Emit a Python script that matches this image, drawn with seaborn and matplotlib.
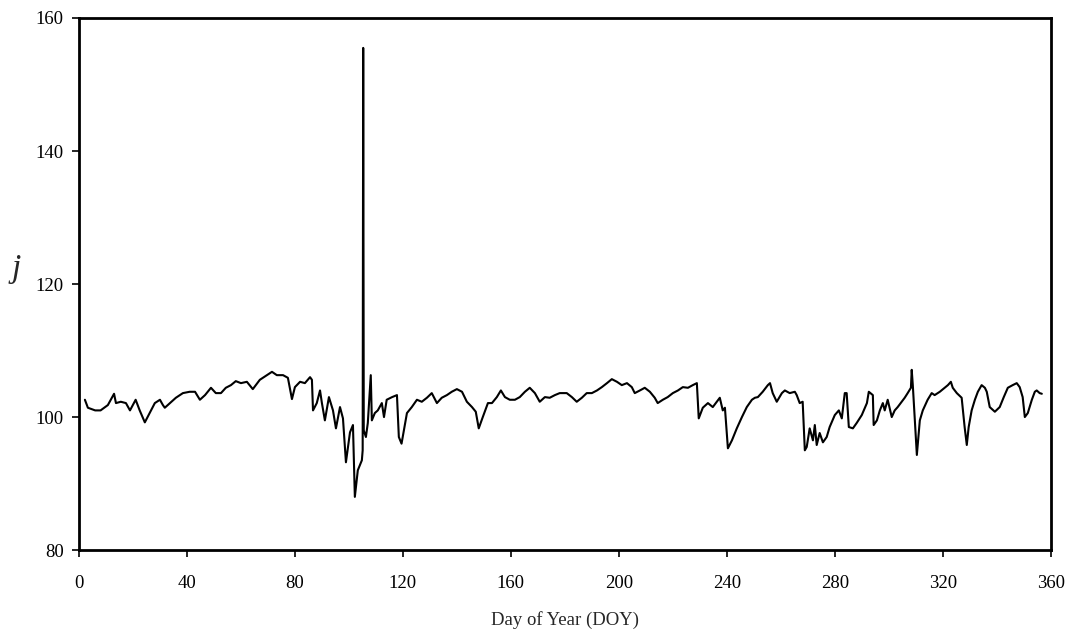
import matplotlib
matplotlib.use("Agg")
import matplotlib.pyplot as plt
import seaborn as sns
import pandas as pd

# Day of year and the corresponding j values of the daily series
doy = [
    2.2, 3.3, 6, 8, 10.7, 13, 13.7, 15.5, 17.4, 18.9, 21, 22.5, 24.4, 26.3, 28.1,
    30, 31.1, 31.8, 33.7, 35.9, 38.5, 41, 43, 44.8, 46.7, 48.9, 50.7, 52.6, 54.4,
    56.3, 58.1, 60, 62.2, 64.4, 67, 69.6, 71.5, 73.3, 75.6, 77.4, 78.9, 80, 81.9,
    83.7, 85.6, 86.3, 86.7, 88.1, 89.3, 90, 91.1, 92.6, 94.1, 95.2, 96.7, 97.8,
    98.9, 100.4, 101.5, 102.2, 103.3, 104.8, 105.1, 105.3, 105.5, 106.3, 107,
    108.1, 108.5, 109.6, 110.7, 112.2, 113, 114, 116, 117.8, 118.5, 119.5, 121.5,
    123.3, 125.2, 127, 128.9, 130.7, 132.6, 134.4, 136.3, 138.1, 140, 141.9, 143.7,
    145.6, 147, 148.1, 149.6, 151.5, 153, 154.8, 156.3, 157.8, 159.6, 161.5, 163.3,
    165.2, 167, 168.9, 170.7, 172.6, 174.4, 176.3, 178.1, 180.7, 182.6, 184.4,
    186.3, 188.1, 190, 191.9, 193.7, 195.6, 197.4, 199.3, 201.1, 203, 204.8, 205.9,
    207.8, 209.6, 211.5, 213.3, 214.4, 216.3, 218.1, 220, 221.9, 223.7, 225.6,
    227.4, 228.9, 229.6, 231.1, 233, 234.8, 236.3, 237.4, 238.5, 239.3, 240.4,
    241.9, 243.7, 245.6, 247.4, 249.3, 250.4, 251.5, 253.3, 255.2, 256, 257, 258.5,
    260.4, 261.5, 263.3, 265.2, 265.9, 267, 268.1, 268.9, 269.6, 270.7, 271.9,
    272.6, 273.3, 274.4, 275.6, 277, 278.1, 280, 281.5, 282.6, 283.7, 284.4, 285.2,
    286.7, 288.1, 290, 291.9, 292.6, 294.1, 294.4, 295.6, 296.7, 297.8, 298.5,
    299.6, 301.1, 302.2, 303.3, 304.8, 305.9, 307, 308.2, 308.5, 308.9, 310.4,
    311.5, 312.6, 314.4, 315.9, 317, 318.9, 320.7, 321.9, 323, 323.7, 325.2, 327,
    328.1, 328.9, 329.6, 330.7, 331.9, 333, 334.4, 335.6, 336.3, 337.4, 339.3,
    341.1, 342.6, 344.1, 345.9, 347.4, 348.5, 349.6, 350.4, 351.5, 353, 354.1,
    354.8, 355.9, 356.7,
]
j_value = [
    102.6, 101.4, 101, 101, 101.8, 103.5, 102.1, 102.3, 102.1, 101, 102.6, 101, 99.2, 100.7, 102.1,
    102.6, 101.8, 101.4, 102.1, 102.9, 103.6, 103.8, 103.8, 102.6, 103.3, 104.4, 103.6, 103.6, 104.4,
    104.8, 105.4, 105.1, 105.3, 104.2, 105.6, 106.3, 106.8, 106.3, 106.3, 105.9, 102.7, 104.5, 105.3,
    105.1, 106, 105.6, 101, 102.1, 104, 102.1, 99.5, 103, 101, 98.3, 101.5, 99.8,
    93.2, 97.7, 98.8, 88, 92, 93.5, 95, 155.5, 98, 97, 99.1,
    106.3, 99.5, 100.6, 101, 102.1, 100, 102.6, 103, 103.3, 97.0, 96.0, 100.6,
    101.5, 102.6, 102.3, 102.9, 103.6, 102.1, 102.9, 103.3, 103.8, 104.2, 103.8, 102.3,
    101.5, 100.8, 98.3, 100, 102.1, 102.1, 103, 104, 103, 102.6, 102.6, 103,
    103.8, 104.4, 103.6, 102.3, 103, 102.9, 103.3, 103.6, 103.6, 103, 102.3,
    102.9, 103.6, 103.6, 104, 104.5, 105.1, 105.7, 105.3, 104.8, 105.1, 104.5, 103.6,
    104, 104.4, 103.8, 102.9, 102.1, 102.6, 103, 103.6, 104, 104.5, 104.4,
    104.8, 105.1, 99.8, 101.4, 102.1, 101.5, 102.3, 102.9, 101.0, 101.4, 95.3,
    96.5, 98.3, 100, 101.5, 102.6, 102.9, 103, 103.8, 104.8, 105.1, 103.6, 102.3,
    103.6, 104, 103.6, 103.8, 103.3, 102.1, 102.3, 95, 95.5, 98.3, 96.5,
    98.8, 95.8, 97.6, 96.2, 97, 98.5, 100.3, 101, 99.8, 103.6, 103.6, 98.5,
    98.3, 99.1, 100.3, 102.1, 103.8, 103.3, 98.8, 99.5, 101, 102.1, 101,
    102.6, 100, 101, 101.5, 102.3, 102.9, 103.6, 104.4, 107.1, 104.8, 94.3,
    99.5, 101, 102.6, 103.6, 103.3, 103.8, 104.4, 104.8, 105.3, 104.4, 103.6, 102.9,
    98.5, 95.8, 98.5, 101, 102.6, 103.8, 104.8, 104.4, 103.8, 101.5, 100.8,
    101.5, 103, 104.4, 104.8, 105.1, 104.5, 103, 100, 100.6, 102.6, 103.8,
    104, 103.6, 103.5,
]

x_ticks = [0, 40, 80, 120, 160, 200, 240, 280, 320, 360]
y_ticks = [80, 100, 120, 140, 160]

df = pd.DataFrame({"DOY": doy, "j": j_value})

sns.set_style("ticks")
plt.rcParams["font.family"] = ["Liberation Serif", "DejaVu Serif"]

fig = plt.figure(figsize=(10.7, 6.33), dpi=100)
ax = fig.add_axes([0.0738, 0.131, 0.9082, 0.8406])

sns.lineplot(data=df, x="DOY", y="j", ax=ax, color="black", linewidth=1.5,
             estimator=None, sort=False)

ax.set_xlim(0, 360)
ax.set_ylim(80, 160)
ax.set_xticks(x_ticks)
ax.set_yticks(y_ticks)
ax.tick_params(axis="both", direction="out", length=5, width=1.2,
               labelsize=13.5, color="black", labelcolor="black")
ax.tick_params(axis="x", pad=13)
ax.tick_params(axis="y", pad=6)

for side in ["left", "right", "top", "bottom"]:
    ax.spines[side].set_visible(True)
    ax.spines[side].set_linewidth(2)
    ax.spines[side].set_color("black")

ax.set_xlabel("Day of Year (DOY)", fontsize=13.5, labelpad=14)
ax.set_ylabel("j", fontsize=24, fontstyle="italic", rotation=0)
ax.yaxis.set_label_coords(-0.065, 0.5)

fig.savefig("out.png", dpi=100, facecolor="white")
